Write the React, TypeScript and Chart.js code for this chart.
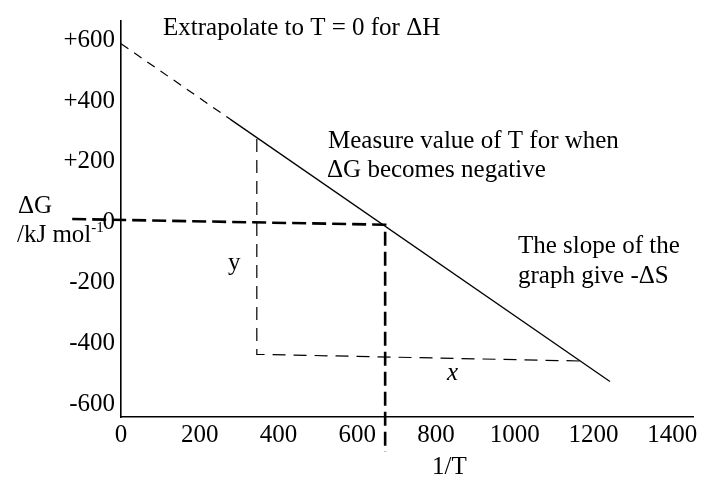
import React, { useEffect, useRef } from "react";
import { Chart, registerables } from "chart.js";

Chart.register(...registerables);

// Axis ticks
const xTicks = [0, 200, 400, 600, 800, 1000, 1200, 1400];
const yTicks = [-600, -400, -200, 0, 200, 400, 600];
const yTickLabels = ["-600", "-400", "-200", "0", "+200", "+400", "+600"];

// Main line: extrapolated (dashed) part and measured (solid) part
const extrapX = [0, 277];
const extrapY = [590, 341];
const solidX = [277, 1242];
const solidY = [341, -526];

// Slope triangle (thin dashed): down the y leg, across the x leg
const triX = [345, 345, 1166];
const triY = [275, -436, -458];

// Bold dashed guide: along ΔG = 0 and down to the T axis
const guideX = [-124, 671, 671];
const guideY = [11, -8, -759];

const zip = (xs: number[], ys: number[]) => xs.map((x, i) => ({ x, y: ys[i] }));

const FONT = "'Liberation Serif', 'Times New Roman', serif";

const textPlugin = {
  id: "texts",
  afterDraw(chart: any) {
    const ctx = chart.ctx;
    ctx.save();
    ctx.fillStyle = "#000";
    ctx.textBaseline = "alphabetic";
    ctx.textAlign = "left";
    const f = (s: number, italic = false) => `${italic ? "italic " : ""}${s}px ${FONT}`;
    ctx.font = f(25);
    ctx.fillText("Extrapolate to T = 0 for \u0394H", 163, 35);
    ctx.fillText("Measure value of T for when", 328, 148);
    ctx.fillText("\u0394G becomes negative", 327, 177);
    ctx.fillText("The slope of the", 518, 253);
    ctx.fillText("graph give -\u0394S", 518, 283);
    ctx.fillText("y", 228, 270);
    ctx.fillText("1/T", 432, 474);
    ctx.fillText("\u0394G", 18, 213);
    ctx.fillText("/kJ mol", 17, 242);
    const w = ctx.measureText("/kJ mol").width;
    ctx.font = f(15);
    ctx.fillText("-1", 17 + w, 232);
    ctx.font = f(25, true);
    ctx.fillText("x", 447, 380);
    ctx.restore();
  },
};

export default function App() {
  const ref = useRef<HTMLCanvasElement>(null);
  useEffect(() => {
    if (!ref.current) return;
    const lineDs = (data: any[], width: number, dash: number[]) => ({
      data,
      showLine: true,
      borderColor: "#000",
      backgroundColor: "#000",
      borderWidth: width,
      borderDash: dash,
      pointRadius: 0,
      fill: false,
      clip: false as any,
    });
    const chart = new Chart(ref.current, {
      type: "scatter",
      data: {
        datasets: [
          lineDs(zip(extrapX, extrapY), 1.2, [9, 7]),
          lineDs(zip(solidX, solidY), 1.3, []),
          lineDs(zip(triX, triY), 1.2, [13, 8]),
          lineDs(zip(guideX, guideY), 2.6, [14, 6]),
        ],
      },
      options: {
        animation: false,
        responsive: false,
        devicePixelRatio: 1,
        layout: { padding: { top: 13, right: 9, left: 0, bottom: 0 } },
        plugins: { legend: { display: false }, tooltip: { enabled: false } },
        scales: {
          x: {
            type: "linear",
            min: 0,
            max: 1453,
            afterFit: (s: any) => {
              s.height = 61;
            },
            afterBuildTicks: (s: any) => {
              s.ticks = xTicks.map((v) => ({ value: v }));
            },
            grid: { display: true, drawOnChartArea: false, drawTicks: false },
            border: { display: true, color: "#000", width: 1.6 },
            ticks: {
              color: "#000",
              font: { family: FONT, size: 25 },
              padding: 3,
              autoSkip: false,
              maxRotation: 0,
              callback: (v: any) => String(v),
            },
          },
          y: {
            type: "linear",
            min: -643,
            max: 665,
            afterFit: (s: any) => {
              s.width = 121;
            },
            afterBuildTicks: (s: any) => {
              s.ticks = yTicks.map((v) => ({ value: v }));
            },
            grid: { display: true, drawOnChartArea: false, drawTicks: false },
            border: { display: true, color: "#000", width: 1.6 },
            ticks: {
              color: "#000",
              font: { family: FONT, size: 25 },
              padding: 6,
              autoSkip: false,
              callback: (v: any) => {
                const i = yTicks.indexOf(Number(v));
                return i >= 0 ? yTickLabels[i] : "";
              },
            },
          },
        },
      },
      plugins: [textPlugin],
    });
    return () => chart.destroy();
  }, []);
  return (
    <div style={{ position: "fixed", left: 0, top: 0, width: 702, height: 478, background: "#fff" }}>
      <canvas ref={ref} width={702} height={478} style={{ display: "block" }} />
    </div>
  );
}
